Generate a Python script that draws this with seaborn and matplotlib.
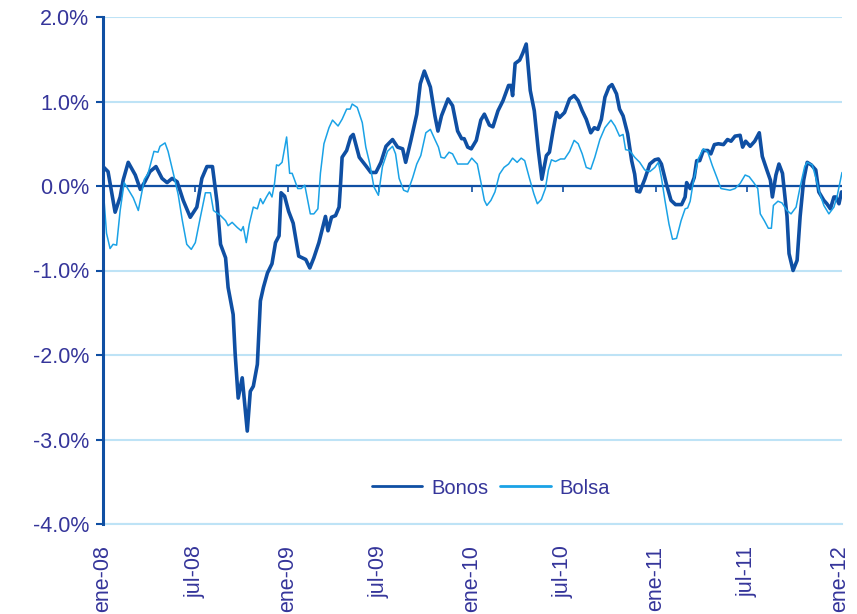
import pandas as pd
import matplotlib.pyplot as plt
import matplotlib.ticker as mticker
import seaborn as sns

# dias desde 01-01-2008 y valores (%)
bonos_dias = [0, 10, 24, 34, 40, 50, 64, 74, 83, 93, 105, 117, 127, 137, 147, 159, 173, 186, 196, 206,
              217, 226, 233, 243, 248, 258, 262, 268, 276, 286, 292, 298, 306, 312, 318, 326, 335, 342, 349, 353,
              360, 368, 377, 388, 402, 410, 418, 428, 441, 446, 453, 461, 468, 471, 474, 483, 491, 496, 508, 521,
              531, 541, 551, 561, 574, 584, 594, 600, 610, 622, 629, 637, 649, 658, 664, 671, 684, 693, 703, 711,
              716, 723, 730, 740, 749, 756, 766, 773, 783, 793, 804, 809, 812, 817, 826, 832, 839, 847, 855, 863,
              870, 879, 885, 892, 899, 905, 915, 925, 934, 942, 950, 958, 967, 974, 981, 988, 995, 1003, 1009, 1018,
              1024, 1031, 1040, 1048, 1054, 1058, 1064, 1074, 1084, 1094, 1101, 1107, 1117, 1126, 1135, 1147, 1154, 1157, 1164, 1172,
              1177, 1183, 1190, 1199, 1205, 1212, 1220, 1230, 1238, 1245, 1253, 1263, 1268, 1274, 1283, 1292, 1301, 1307, 1316, 1323,
              1327, 1334, 1340, 1347, 1356, 1360, 1368, 1376, 1382, 1389, 1396, 1404, 1413, 1419, 1429, 1435, 1442, 1449, 1453, 1459,
              1464]
bonos = [0.23, 0.17, -0.31, -0.13, 0.07, 0.28, 0.13, -0.04, 0.05, 0.17, 0.23, 0.09, 0.04, 0.09, 0.05, -0.17, -0.37, -0.25, 0.09, 0.23,
         0.23, -0.19, -0.69, -0.85, -1.20, -1.52, -1.99, -2.51, -2.27, -2.90, -2.43, -2.37, -2.11, -1.36, -1.20, -1.03, -0.92, -0.67, -0.59, -0.08,
         -0.12, -0.30, -0.44, -0.83, -0.87, -0.97, -0.85, -0.67, -0.36, -0.53, -0.37, -0.35, -0.25, 0.03, 0.34, 0.42, 0.58, 0.61, 0.34, 0.24,
         0.16, 0.16, 0.28, 0.47, 0.55, 0.46, 0.44, 0.28, 0.53, 0.85, 1.21, 1.36, 1.17, 0.83, 0.65, 0.83, 1.03, 0.95, 0.65, 0.56,
         0.56, 0.46, 0.44, 0.54, 0.78, 0.85, 0.72, 0.70, 0.89, 1.01, 1.19, 1.19, 1.07, 1.45, 1.49, 1.57, 1.68, 1.13, 0.89, 0.42,
         0.08, 0.36, 0.40, 0.65, 0.87, 0.81, 0.87, 1.03, 1.07, 1.01, 0.89, 0.79, 0.63, 0.69, 0.67, 0.79, 1.05, 1.17, 1.20, 1.09,
         0.91, 0.83, 0.62, 0.30, 0.14, -0.06, -0.07, 0.08, 0.26, 0.31, 0.32, 0.26, 0.02, -0.17, -0.22, -0.22, -0.13, 0.04, -0.03, 0.10,
         0.30, 0.30, 0.42, 0.42, 0.38, 0.49, 0.50, 0.49, 0.55, 0.53, 0.59, 0.60, 0.46, 0.53, 0.47, 0.53, 0.63, 0.35, 0.19, 0.07,
         -0.13, 0.13, 0.26, 0.15, -0.36, -0.80, -1.00, -0.88, -0.36, 0.07, 0.28, 0.25, 0.19, -0.07, -0.17, -0.21, -0.27, -0.13, -0.13, -0.21,
         -0.07]

bolsa_dias = [0, 7, 14, 20, 27, 34, 42, 50, 60, 70, 82, 89, 101, 109, 113, 123, 129, 139, 149, 157,
              166, 175, 183, 193, 203, 213, 219, 233, 243, 248, 256, 266, 274, 278, 284, 290, 298, 306, 312, 317,
              324, 330, 335, 340, 344, 348, 355, 364, 370, 375, 386, 393, 400, 411, 418, 426, 431, 438, 448, 455,
              466, 474, 483, 490, 494, 504, 514, 521, 529, 537, 546, 554, 564, 574, 580, 587, 596, 604, 614, 622,
              630, 640, 649, 658, 665, 670, 677, 686, 693, 703, 713, 723, 731, 742, 749, 756, 761, 769, 777, 786,
              795, 804, 812, 821, 829, 836, 845, 854, 861, 869, 877, 883, 889, 897, 907, 915, 925, 934, 942, 950,
              958, 967, 975, 985, 995, 1007, 1015, 1024, 1031, 1036, 1044, 1054, 1064, 1074, 1084, 1094, 1101, 1107, 1114, 1122,
              1129, 1137, 1146, 1154, 1159, 1164, 1170, 1180, 1190, 1199, 1208, 1217, 1225, 1234, 1243, 1253, 1263, 1273, 1281, 1290,
              1298, 1303, 1311, 1319, 1325, 1329, 1338, 1346, 1356, 1364, 1374, 1382, 1391, 1396, 1406, 1413, 1419, 1429, 1439, 1449,
              1455, 1465]
bolsa = [0.00, -0.56, -0.74, -0.69, -0.70, -0.29, 0.04, -0.04, -0.14, -0.29, 0.08, 0.14, 0.41, 0.40, 0.47, 0.51, 0.41, 0.16, -0.10, -0.40,
         -0.69, -0.75, -0.67, -0.37, -0.08, -0.08, -0.29, -0.35, -0.41, -0.47, -0.43, -0.49, -0.53, -0.48, -0.67, -0.45, -0.25, -0.27, -0.15, -0.21,
         -0.13, -0.07, -0.13, 0.03, 0.25, 0.24, 0.28, 0.58, 0.15, 0.15, -0.03, -0.03, 0.01, -0.33, -0.33, -0.27, 0.15, 0.50, 0.69, 0.78,
         0.71, 0.79, 0.91, 0.91, 0.97, 0.93, 0.75, 0.46, 0.26, -0.01, -0.11, 0.23, 0.41, 0.47, 0.38, 0.09, -0.05, -0.07, 0.10, 0.26,
         0.36, 0.63, 0.67, 0.55, 0.46, 0.34, 0.33, 0.40, 0.38, 0.26, 0.26, 0.26, 0.33, 0.26, 0.05, -0.17, -0.23, -0.17, -0.07, 0.14,
         0.22, 0.26, 0.33, 0.28, 0.33, 0.30, 0.10, -0.09, -0.21, -0.16, -0.03, 0.19, 0.31, 0.29, 0.32, 0.32, 0.41, 0.54, 0.50, 0.38,
         0.22, 0.20, 0.34, 0.55, 0.69, 0.78, 0.71, 0.59, 0.61, 0.43, 0.42, 0.34, 0.28, 0.19, 0.17, 0.22, 0.28, 0.10, -0.17, -0.45,
         -0.63, -0.62, -0.41, -0.27, -0.26, -0.18, 0.04, 0.32, 0.44, 0.40, 0.24, 0.10, -0.03, -0.04, -0.05, -0.03, 0.03, 0.13, 0.11, 0.04,
         -0.03, -0.33, -0.41, -0.50, -0.50, -0.23, -0.18, -0.20, -0.29, -0.33, -0.25, -0.01, 0.23, 0.28, 0.25, 0.10, -0.05, -0.23, -0.33, -0.25,
         -0.13, 0.16]

x_ticks = ['2008-01-01', '2008-07-01', '2009-01-01', '2009-07-01', '2010-01-01',
           '2010-07-01', '2011-01-01', '2011-07-01', '2012-01-01']
x_labels = ['ene-08', 'jul-08', 'ene-09', 'jul-09', 'ene-10', 'jul-10', 'ene-11', 'jul-11', 'ene-12']
y_ticks = [-4, -3, -2, -1, 0, 1, 2]

C_BONOS = '#0F4FA3'
C_BOLSA = '#1AA2E6'
C_TEXT = '#35359A'
C_GRID = '#BEE3F6'

sns.set_style('white')
plt.rcParams['font.family'] = ['Liberation Sans', 'DejaVu Sans']

inicio = pd.Timestamp('2008-01-01')
df_bonos = pd.DataFrame({'fecha': inicio + pd.to_timedelta(bonos_dias, unit='D'), 'valor': bonos})
df_bolsa = pd.DataFrame({'fecha': inicio + pd.to_timedelta(bolsa_dias, unit='D'), 'valor': bolsa})

fig = plt.figure(figsize=(8.57, 6.14), dpi=100)
ax = fig.add_axes([103 / 857, 1 - 524 / 614, (842 - 103) / 857, (524 - 17) / 614])

sns.lineplot(data=df_bonos, x='fecha', y='valor', ax=ax, color=C_BONOS, linewidth=2.6,
             label='Bonos', errorbar=None, zorder=3)
sns.lineplot(data=df_bolsa, x='fecha', y='valor', ax=ax, color=C_BOLSA, linewidth=1.1,
             label='Bolsa', errorbar=None, zorder=4)

ax.set_xlim(inicio, inicio + pd.Timedelta(days=1465))
ax.set_ylim(-4, 2)
ax.set_xlabel('')
ax.set_ylabel('')

ax.set_yticks(y_ticks)
ax.yaxis.set_major_formatter(mticker.FuncFormatter(lambda v, p: f'{v:.1f}%'))
ax.grid(axis='y', color=C_GRID, linewidth=1.5)
ax.set_axisbelow(True)

# linea del cero, por encima de la rejilla y por debajo de las series
ax.axhline(0, color=C_BONOS, linewidth=1.6, zorder=2)

ax.set_xticks(pd.to_datetime(x_ticks))
ax.set_xticklabels(x_labels, rotation=90)
ax.tick_params(axis='x', length=0, pad=15.5, labelsize=15.5, labelcolor=C_TEXT)
ax.tick_params(axis='y', length=5, width=1.5, color=C_BONOS, direction='out', pad=5,
               labelsize=15.5, labelcolor=C_TEXT, left=True)

for s in ['top', 'right']:
    ax.spines[s].set_visible(False)
ax.spines['bottom'].set_color(C_GRID)
ax.spines['bottom'].set_linewidth(1.5)
ax.spines['left'].set_color(C_BONOS)
ax.spines['left'].set_linewidth(2.2)
ax.spines['left'].set_zorder(5)

# marcas del eje horizontal sobre el cero
eje0 = ax.secondary_xaxis(4 / 6)
eje0.set_alignment('bottom')
eje0.set_zorder(2)
eje0.set_xticks(pd.to_datetime(x_ticks[1:-1]))
eje0.tick_params(axis='x', direction='out', length=4, width=1.2, color=C_BONOS, labelbottom=False)
eje0.spines['bottom'].set_visible(False)

leg = ax.legend(loc='center', bbox_to_anchor=(0.525, 0.071), ncol=2, frameon=False,
                fontsize=14.5, handlelength=2.5, handletextpad=0.45, columnspacing=0.6)
for t in leg.get_texts():
    t.set_color(C_TEXT)
for h in leg.get_lines():
    h.set_linewidth(2.0)

fig.savefig('out.png', dpi=100)
plt.close(fig)
